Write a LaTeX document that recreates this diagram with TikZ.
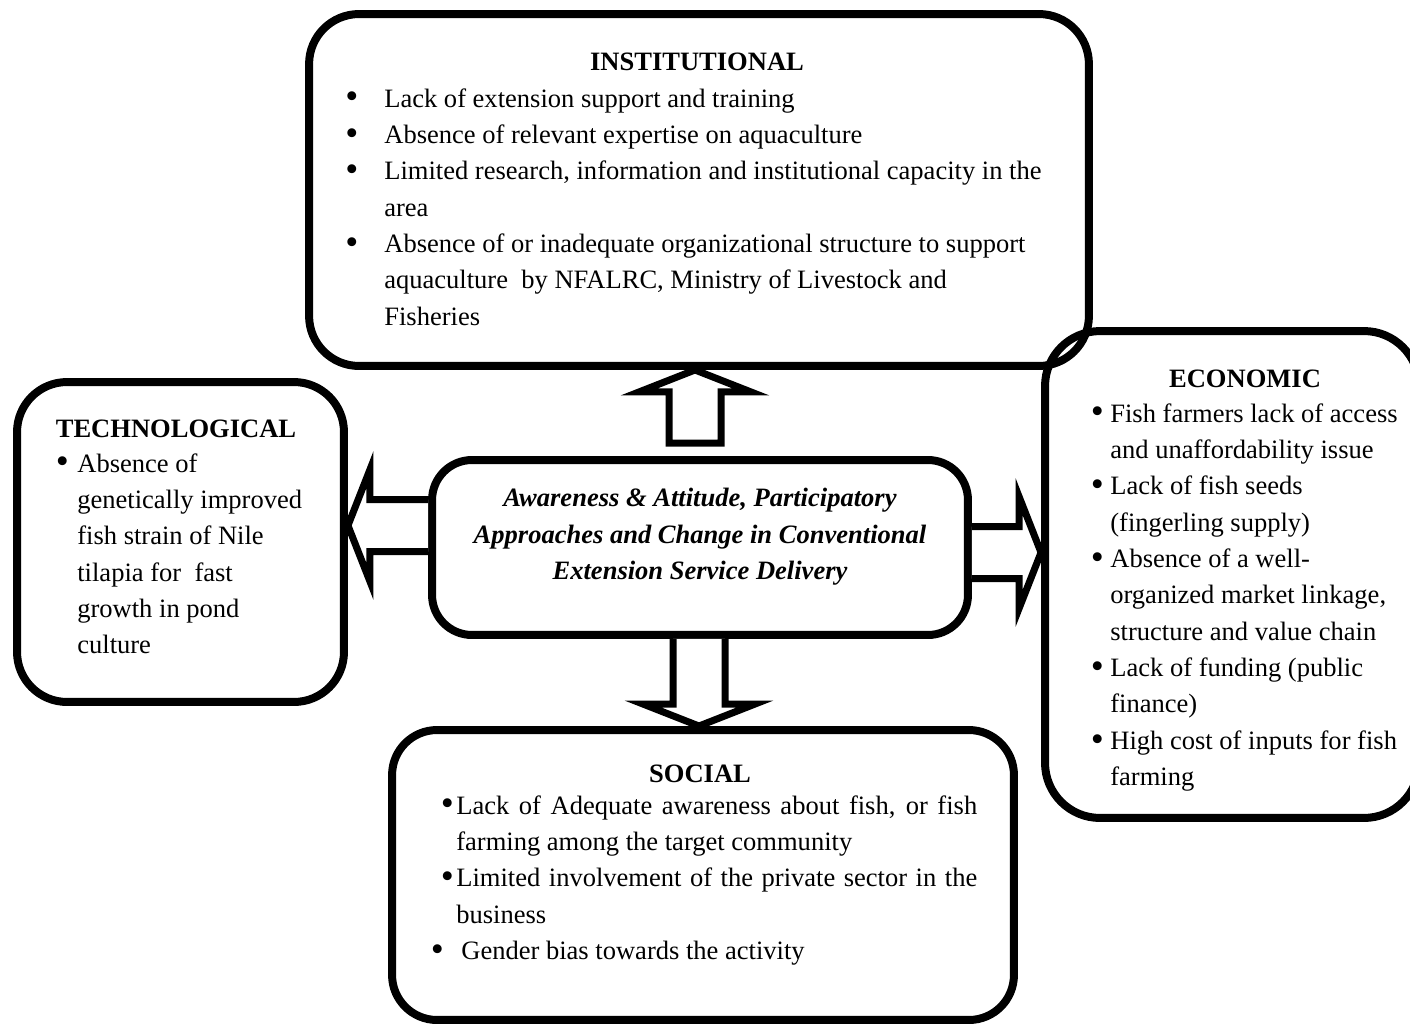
\documentclass[tikz,border=0pt]{standalone}
\usepackage{fontspec}
\setmainfont{Liberation Serif}
\usepackage{array}
\usetikzlibrary{calc}
\newcommand{\boxfont}{\fontsize{15.1}{20.7}\selectfont}
\newcommand{\dotmark}{\makebox[0.18cm][c]{\raisebox{-0.07em}{\scalebox{1.4}{\textbullet}}}}

\begin{document}
\begin{tikzpicture}[x=0.02cm, y=-0.02cm,
    box/.style={draw, line width=0.16cm, rounded corners=1cm, inner sep=0pt},
    blockarrow/.style={draw, fill=white, line width=0.14cm, line join=miter},
    heading/.style={font=\boxfont\bfseries, anchor=base, inner sep=0pt},
    itemlist/.style={font=\boxfont, anchor=base west, inner sep=0pt}]
    \useasboundingbox (0,0) rectangle (1410,1025);
    % Boxes
    \node[box, minimum width=15.6cm, minimum height=7.04cm] (inst) at (699,190) {};
    \node[box, minimum width=6.54cm, minimum height=6.4cm] (tech) at (180.5,542) {};
    \node[box, minimum width=10.72cm, minimum height=3.5cm, rounded corners=0.8cm] (mid) at (700,547.5) {};
    \node[box, minimum width=12.44cm, minimum height=5.8cm, rounded corners=0.9cm] (soc) at (703,875) {};
    \node[box, minimum width=7.48cm, minimum height=9.74cm, rounded corners=1.1cm] (econ) at (1232,574.5) {};
    % Block arrows out of the middle box
    \coordinate (upbase) at ($(mid.north)+(-5,-13)$);
    \coordinate (uptip) at (upbase |- inst.south);
    \draw[blockarrow] ($(upbase)+(-26,0)$) -- ($(uptip)+(-26,22)$) -- ($(uptip)+(-56,22)$) -- (uptip)
        -- ($(uptip)+(56,22)$) -- ($(uptip)+(26,22)$) -- ($(upbase)+(26,0)$) -- cycle;
    \coordinate (lfbase) at ($(mid.west)+(0,-22)$);
    \coordinate (lftip) at (lfbase -| tech.east);
    \draw[blockarrow] ($(lfbase)+(0,-26)$) -- ($(lftip)+(22,-26)$) -- ($(lftip)+(22,-56)$) -- (lftip)
        -- ($(lftip)+(22,56)$) -- ($(lftip)+(22,26)$) -- ($(lfbase)+(0,26)$);
    \coordinate (rtbase) at ($(mid.east)+(0,5)$);
    \coordinate (rttip) at (rtbase -| econ.west);
    \draw[blockarrow] ($(rtbase)+(0,-26)$) -- ($(rttip)+(-22,-26)$) -- ($(rttip)+(-22,-56)$) -- (rttip)
        -- ($(rttip)+(-22,56)$) -- ($(rttip)+(-22,26)$) -- ($(rtbase)+(0,26)$);
    \coordinate (dnbase) at ($(mid.south)+(-1,0)$);
    \coordinate (dntip) at (dnbase |- soc.north);
    \draw[blockarrow] ($(dnbase)+(-26,0)$) -- ($(dntip)+(-26,-22)$) -- ($(dntip)+(-56,-22)$) -- (dntip)
        -- ($(dntip)+(56,-22)$) -- ($(dntip)+(26,-22)$) -- ($(dnbase)+(26,0)$);
    % Middle text
    \node[font=\boxfont\bfseries\itshape, align=center] (midtext) at (700,537)
        {Awareness \& Attitude, Participatory\\Approaches and Change in Conventional\\Extension Service Delivery};
    % Institutional
    \node[heading] (insthead) at (697,70) {INSTITUTIONAL};
    \node[itemlist] (instlist) at (347,107) {\begin{tabular}[t]{@{}p{0.74cm}@{}l@{}}
        \dotmark & Lack of extension support and training\\
        \dotmark & Absence of relevant expertise on aquaculture\\
        \dotmark & Limited research, information and institutional capacity in the\\
                 & area\\
        \dotmark & Absence of or inadequate organizational structure to support\\
                 & aquaculture \ by NFALRC, Ministry of Livestock and\\
                 & Fisheries
    \end{tabular}};
    % Technological
    \node[heading] (techhead) at (176,437) {TECHNOLOGICAL};
    \node[itemlist] (techlist) at (57.5,472) {\begin{tabular}[t]{@{}p{0.39cm}@{}l@{}}
        \dotmark & Absence of\\
                 & genetically improved\\
                 & fish strain of Nile\\
                 & tilapia for \ fast\\
                 & growth in pond\\
                 & culture
    \end{tabular}};
    % Economic
    \node[heading] (econhead) at (1245,387) {ECONOMIC};
    \node[itemlist] (econlist) at (1092.5,422) {\begin{tabular}[t]{@{}p{0.35cm}@{}l@{}}
        \dotmark & Fish farmers lack of access\\
                 & and unaffordability issue\\
        \dotmark & Lack of fish seeds\\
                 & (fingerling supply)\\
        \dotmark & Absence of a well-\\
                 & organized market linkage,\\
                 & structure and value chain\\
        \dotmark & Lack of funding (public\\
                 & finance)\\
        \dotmark & High cost of inputs for fish\\
                 & farming
    \end{tabular}};
    % Social
    \node[heading] (sochead) at (700,782) {SOCIAL};
    \node[itemlist] (soclist) at (442.5,814) {\begin{tabular}[t]{@{}p{0.27cm}@{}p{10.42cm}@{}}
        \dotmark & Lack of Adequate awareness about fish, or fish\linebreak farming among the target community\\
        \dotmark & Limited involvement of the private sector in the\linebreak business\\[0.06cm]
        \hspace*{-0.2cm}\dotmark & \hspace*{0.1cm}Gender bias towards the activity
    \end{tabular}};
\end{tikzpicture}
\end{document}
